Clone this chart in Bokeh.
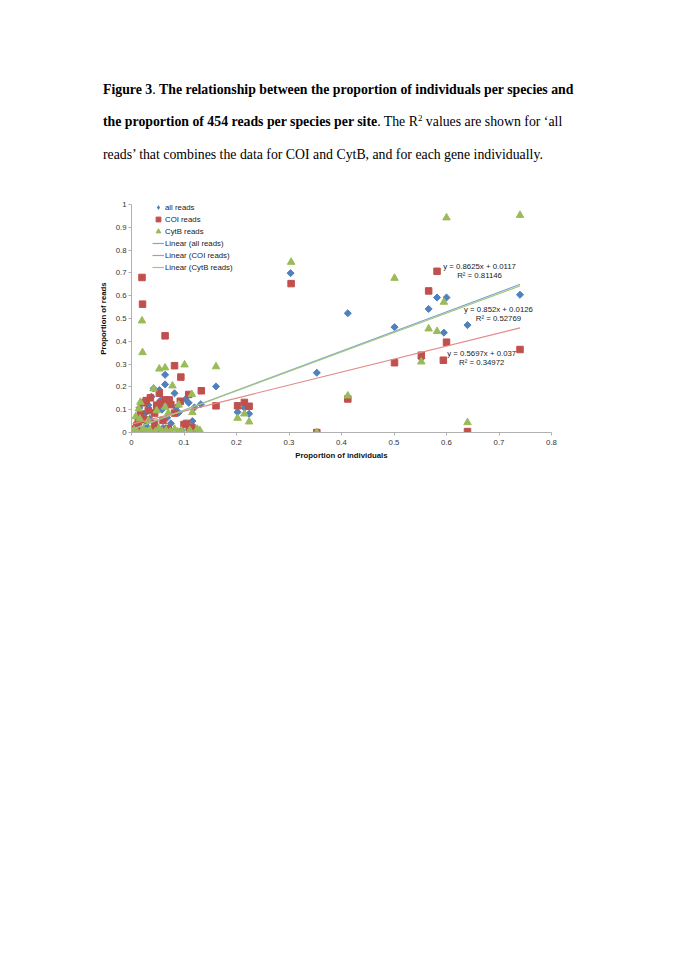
from bokeh.plotting import figure
from bokeh.layouts import column
from bokeh.models import Label, Legend, LegendItem, FixedTicker, Div
from bokeh.embed import file_html
from bokeh.resources import INLINE

# ---------------- data ----------------
all_x = [0.003, 0.008, 0.012, 0.015, 0.020, 0.025, 0.028, 0.032, 0.035, 0.038, 0.042, 0.045, 0.048,
         0.053, 0.055, 0.058, 0.060, 0.064, 0.064, 0.068, 0.072, 0.075, 0.082, 0.085, 0.090, 0.095,
         0.103, 0.109, 0.116, 0.120, 0.132, 0.161, 0.202, 0.215, 0.224, 0.303, 0.353, 0.412, 0.501,
         0.552, 0.566, 0.582, 0.595, 0.600, 0.640, 0.740]
all_y = [0.005, 0.020, 0.045, 0.108, 0.010, 0.082, 0.030, 0.120, 0.060, 0.157, 0.193, 0.095, 0.008,
         0.186, 0.140, 0.100, 0.020, 0.211, 0.253, 0.065, 0.128, 0.040, 0.172, 0.110, 0.087, 0.010,
         0.146, 0.130, 0.050, 0.110, 0.124, 0.202, 0.089, 0.108, 0.082, 0.699, 0.262, 0.523, 0.462,
         0.325, 0.542, 0.592, 0.438, 0.592, 0.471, 0.604]

coi_x = [0.002, 0.006, 0.010, 0.013, 0.017, 0.020, 0.021, 0.024, 0.026, 0.028, 0.032, 0.036, 0.040,
         0.044, 0.044, 0.048, 0.053, 0.055, 0.060, 0.064, 0.064, 0.070, 0.072, 0.075, 0.082, 0.082,
         0.093, 0.094, 0.100, 0.105, 0.109, 0.110, 0.115, 0.118, 0.133, 0.161, 0.202, 0.215, 0.224,
         0.304, 0.353, 0.412, 0.501, 0.552, 0.566, 0.582, 0.594, 0.600, 0.640, 0.740]
coi_y = [0.000, 0.015, 0.030, 0.047, 0.082, 0.680, 0.563, 0.130, 0.056, 0.140, 0.096, 0.152, 0.010,
         0.085, 0.040, 0.120, 0.172, 0.126, 0.053, 0.143, 0.424, 0.018, 0.143, 0.122, 0.085, 0.293,
         0.137, 0.243, 0.035, 0.040, 0.167, 0.018, 0.023, 0.010, 0.183, 0.117, 0.117, 0.132, 0.115,
         0.653, 0.000, 0.147, 0.306, 0.339, 0.621, 0.707, 0.317, 0.396, 0.004, 0.364]

cytb_x = [0.002, 0.005, 0.008, 0.010, 0.014, 0.016, 0.017, 0.020, 0.021, 0.022, 0.028, 0.032, 0.035,
          0.042, 0.045, 0.048, 0.052, 0.053, 0.058, 0.064, 0.064, 0.066, 0.070, 0.074, 0.078, 0.082,
          0.088, 0.090, 0.095, 0.101, 0.111, 0.115, 0.116, 0.125, 0.130, 0.161, 0.202, 0.215, 0.224,
          0.304, 0.353, 0.412, 0.501, 0.552, 0.566, 0.582, 0.595, 0.600, 0.640, 0.740]
cytb_y = [0.002, 0.010, 0.070, 0.005, 0.104, 0.060, 0.133, 0.490, 0.351, 0.015, 0.005, 0.053, 0.012,
          0.192, 0.003, 0.096, 0.018, 0.279, 0.006, 0.111, 0.284, 0.010, 0.085, 0.004, 0.205, 0.015,
          0.003, 0.121, 0.008, 0.297, 0.010, 0.167, 0.088, 0.015, 0.010, 0.289, 0.063, 0.082, 0.047,
          0.747, 0.000, 0.161, 0.677, 0.310, 0.455, 0.444, 0.572, 0.942, 0.044, 0.953]

series_names = ["all reads", "COI reads", "CytB reads"]
trend_slope = [0.8625, 0.5697, 0.852]
trend_intercept = [0.0117, 0.037, 0.0126]
trend_r2 = ["0.81146", "0.34972", "0.52769"]
slope_text = ["0.8625", "0.5697", "0.852"]
intercept_text = ["0.0117", "0.037", "0.0126"]

x_ticks = [0, 0.1, 0.2, 0.3, 0.4, 0.5, 0.6, 0.7, 0.8]
x_tick_labels = ["0", "0.1", "0.2", "0.3", "0.4", "0.5", "0.6", "0.7", "0.8"]
y_ticks = [0, 0.1, 0.2, 0.3, 0.4, 0.5, 0.6, 0.7, 0.8, 0.9, 1]
y_tick_labels = ["0", "0.1", "0.2", "0.3", "0.4", "0.5", "0.6", "0.7", "0.8", "0.9", "1"]

BLUE, RED, GREEN = "#4F81BD", "#C0504D", "#9BBB59"
SANS = "Liberation Sans"
SERIF = "Liberation Serif"

# ---------------- caption ----------------
CAP_H = 175
caption_html = (
    '<div style="font-family:\'Liberation Serif\',\'Times New Roman\',serif; font-size:13.8px; '
    'color:black; line-height:32px; white-space:nowrap; padding-left:103px; padding-top:74px;">'
    '<b>Figure 3</b>. <b>The relationship between the proportion of individuals per species and</b><br>'
    '<b>the proportion of 454 reads per species per site</b>. The R'
    '<span style="position:relative; top:-5px; font-size:9px;">2</span>'
    ' values are shown for \u2018all<br>'
    'reads\u2019 that combines the data for COI and CytB, and for each gene individually.'
    '</div>'
)
caption = Div(text=caption_html, width=685, height=CAP_H, margin=0)

# ---------------- chart ----------------
p = figure(frame_width=420, frame_height=228, x_range=(0, 0.8), y_range=(0, 1),
           min_border_left=131, min_border_right=134, min_border_top=204 - CAP_H,
           min_border_bottom=46,
           output_backend="svg", toolbar_location=None, background_fill_color="white",
           border_fill_color="white")
p.outline_line_color = None
p.grid.visible = False

for ax in (p.xaxis[0], p.yaxis[0]):
    ax.axis_line_color = "#B0B0B0"
    ax.major_tick_line_color = "#B0B0B0"
    ax.minor_tick_line_color = None
    ax.major_tick_in = 0
    ax.major_tick_out = 3
    ax.major_label_text_font = SANS
    ax.major_label_text_font_size = "7.8px"
    ax.major_label_text_color = "#333333"
    ax.axis_label_text_font = SANS
    ax.axis_label_text_font_size = "7.8px"
    ax.axis_label_text_font_style = "bold"
    ax.axis_label_text_color = "#111111"

p.xaxis.ticker = FixedTicker(ticks=x_ticks)
p.xaxis.major_label_overrides = dict(zip(x_ticks, x_tick_labels))
p.yaxis.ticker = FixedTicker(ticks=y_ticks)
p.yaxis.major_label_overrides = dict(zip(y_ticks, y_tick_labels))
p.xaxis.axis_label = "Proportion of individuals"
p.yaxis.axis_label = "Proportion of reads"
p.xaxis.major_label_standoff = 4
p.xaxis.axis_label_standoff = 3
p.yaxis.major_label_standoff = 2
p.yaxis.axis_label_standoff = 5

# legend key for the diamond series (same data, zero size: only its legend swatch shows)
r_all_key = p.scatter(all_x, all_y, marker="diamond", size=0, fill_color=BLUE, line_color=None)
# points (series drawn in Excel order: all, COI, CytB)
r_all = p.scatter(all_x, all_y, marker="square", angle=0.785398, size=5.0,
                  fill_color=BLUE, line_color=BLUE)
r_coi = p.scatter(coi_x, coi_y, marker="square", size=6.5, fill_color=RED, line_color=RED)
r_cytb = p.scatter(cytb_x, cytb_y, marker="triangle", size=7.5, fill_color=GREEN, line_color=GREEN)

# trend lines over each series' x range
line_colors = ["#7FA6D3", "#E08A88", "#A9C77A"]
xs_all = [all_x, coi_x, cytb_x]
line_rs = []
for i in range(3):
    x0, x1 = min(xs_all[i]), max(xs_all[i])
    lx = [x0, x1]
    ly = [trend_slope[i] * v + trend_intercept[i] for v in lx]
    line_rs.append(p.line(lx, ly, line_color=line_colors[i], line_width=1.2))

legend = Legend(items=[
    LegendItem(label="all reads", renderers=[r_all_key]),
    LegendItem(label="COI reads", renderers=[r_coi]),
    LegendItem(label="CytB reads", renderers=[r_cytb]),
    LegendItem(label="Linear (all reads)", renderers=[line_rs[0]]),
    LegendItem(label="Linear (COI reads)", renderers=[line_rs[1]]),
    LegendItem(label="Linear (CytB reads)", renderers=[line_rs[2]]),
], location=(21, 159))
legend.border_line_color = None
legend.background_fill_alpha = 0
legend.padding = 0
legend.margin = 0
legend.spacing = 0
legend.label_height = 12
legend.glyph_height = 12
legend.glyph_width = 12
legend.label_standoff = 1
legend.label_text_font = SANS
legend.label_text_font_size = "7.8px"
legend.label_text_color = "#222222"
p.add_layout(legend, "center")

# trend equations: (center x, y of first line, y of second line) in data units
eq_pos = [(0.663, 0.729, 0.689), (0.667, 0.346, 0.307), (0.699, 0.539, 0.500)]
for i in range(3):
    cx, y1, y2 = eq_pos[i]
    p.add_layout(Label(x=cx, y=y1, text=f"y = {slope_text[i]}x + {intercept_text[i]}",
                       text_align="center", text_baseline="middle", text_font=SANS,
                       text_font_size="7.8px", text_color="#222222"))
    p.add_layout(Label(x=cx, y=y2, text=f"R² = {trend_r2[i]}",
                       text_align="center", text_baseline="middle", text_font=SANS,
                       text_font_size="7.8px", text_color="#222222"))

layout = column(caption, p, spacing=0)
open("out.html", "w").write(file_html(layout, INLINE))
